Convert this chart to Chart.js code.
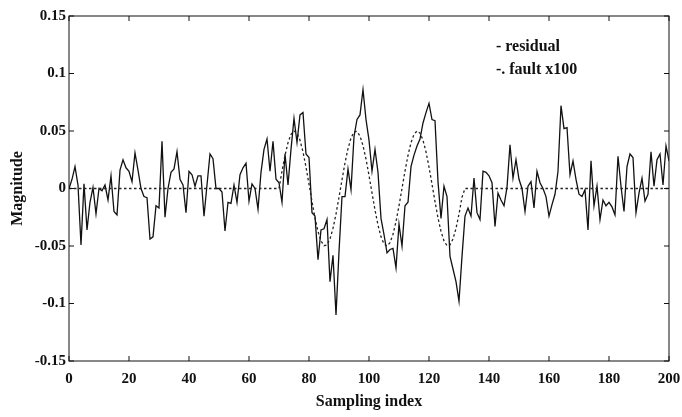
<!DOCTYPE html>
<html>
<head>
<meta charset="utf-8">
<script src="https://cdn.jsdelivr.net/npm/chart.js@4.4.1/dist/chart.umd.min.js"></script>
<style>
  html, body { margin: 0; padding: 0; background: #fff; }
  #wrap { width: 682px; height: 417px; }
</style>
</head>
<body>
<div id="wrap"><canvas id="myChart"></canvas></div>
<script>
// residual, one value per sampling index 0..200
const residual = [
  0.000, 0.008, 0.019, 0.003, -0.049, 0.004, -0.036, -0.012, 0.001, -0.022,
  0.000, -0.002, 0.003, -0.010, 0.011, -0.020, -0.023, 0.016, 0.025, 0.018,
  0.015, 0.006, 0.031, 0.016, 0.000, -0.007, -0.008, -0.044, -0.042, -0.015,
  -0.017, 0.041, -0.025, 0.000, 0.014, 0.017, 0.032, 0.008, 0.003, -0.021,
  0.015, 0.012, 0.002, 0.011, 0.011, -0.024, 0.003, 0.030, 0.026, 0.000,
  0.000, -0.003, -0.037, -0.012, -0.013, 0.003, -0.012, 0.012, 0.018, 0.022,
  -0.011, 0.004, 0.000, -0.018, 0.014, 0.034, 0.043, 0.015, 0.041, 0.008,
  0.005, -0.012, 0.030, 0.003, 0.034, 0.061, 0.040, 0.064, 0.066, 0.030,
  0.027, -0.021, -0.024, -0.062, -0.036, -0.035, -0.027, -0.081, -0.058, -0.110,
  -0.055, -0.007, -0.007, 0.017, -0.001, 0.045, 0.060, 0.064, 0.086, 0.060,
  0.042, 0.015, 0.034, 0.014, -0.026, -0.040, -0.056, -0.053, -0.052, -0.069,
  -0.031, -0.050, -0.015, -0.012, 0.019, 0.029, 0.037, 0.043, 0.057, 0.066,
  0.074, 0.060, 0.059, 0.006, -0.026, 0.002, -0.007, -0.059, -0.070, -0.081,
  -0.098, -0.059, -0.024, -0.017, -0.024, 0.009, -0.021, -0.027, 0.015, 0.014,
  0.011, 0.005, -0.033, -0.004, -0.010, -0.015, 0.001, 0.038, 0.009, 0.025,
  0.008, 0.000, -0.020, 0.002, 0.006, -0.017, 0.015, 0.005, 0.000, -0.007,
  -0.024, -0.014, -0.005, 0.015, 0.072, 0.052, 0.053, 0.012, 0.024, 0.008,
  -0.005, -0.007, -0.001, -0.036, 0.024, -0.015, 0.002, -0.027, -0.010, -0.015,
  -0.012, -0.016, -0.023, 0.028, 0.002, -0.020, 0.019, 0.030, 0.027, -0.021,
  -0.004, 0.009, -0.011, -0.005, 0.032, 0.002, 0.025, 0.030, 0.003, 0.037,
  0.024
];

// fault x100, same sampling indices
const faultX100 = [
  0, 0, 0, 0, 0, 0, 0, 0, 0, 0,
  0, 0, 0, 0, 0, 0, 0, 0, 0, 0,
  0, 0, 0, 0, 0, 0, 0, 0, 0, 0,
  0, 0, 0, 0, 0, 0, 0, 0, 0, 0,
  0, 0, 0, 0, 0, 0, 0, 0, 0, 0,
  0, 0, 0, 0, 0, 0, 0, 0, 0, 0,
  0, 0, 0, 0, 0, 0, 0, 0, 0, 0,
  0, 0.0151, 0.0288, 0.0398, 0.0471, 0.0500, 0.0482, 0.0420, 0.0318, 0.0187,
  0.0038, -0.0114, -0.0256, -0.0373, -0.0456, -0.0497, -0.0491, -0.0439, -0.0347, -0.0222,
  -0.0076, 0.0076, 0.0222, 0.0347, 0.0439, 0.0491, 0.0497, 0.0456, 0.0373, 0.0256,
  0.0114, -0.0038, -0.0187, -0.0318, -0.0420, -0.0482, -0.0500, -0.0471, -0.0398, -0.0288,
  -0.0151, 0, 0.0151, 0.0288, 0.0398, 0.0471, 0.0500, 0.0482, 0.0420, 0.0318,
  0.0187, 0.0038, -0.0114, -0.0256, -0.0373, -0.0456, -0.0497, -0.0491, -0.0439, -0.0347,
  -0.0222, -0.0076, 0, 0, 0, 0, 0, 0, 0, 0,
  0, 0, 0, 0, 0, 0, 0, 0, 0, 0,
  0, 0, 0, 0, 0, 0, 0, 0, 0, 0,
  0, 0, 0, 0, 0, 0, 0, 0, 0, 0,
  0, 0, 0, 0, 0, 0, 0, 0, 0, 0,
  0, 0, 0, 0, 0, 0, 0, 0, 0, 0,
  0, 0, 0, 0, 0, 0, 0, 0, 0, 0,
  0
];

const legendText = ['- residual', '-. fault x100'];

const serif = '"Liberation Serif", "DejaVu Serif", serif';

const toPoints = arr => arr.map((v, i) => ({ x: i, y: v }));

// frame, inward ticks and the text legend
const framePlugin = {
  id: 'frame',
  afterDraw(chart) {
    const { ctx, chartArea: a, scales } = chart;
    ctx.save();
    ctx.strokeStyle = '#111';
    ctx.lineWidth = 1;
    ctx.strokeRect(a.left, a.top, a.right - a.left, a.bottom - a.top);
    ctx.beginPath();
    const t = 5;
    scales.x.ticks.forEach(tk => {
      const px = scales.x.getPixelForValue(tk.value);
      ctx.moveTo(px, a.bottom); ctx.lineTo(px, a.bottom - t);
      ctx.moveTo(px, a.top); ctx.lineTo(px, a.top + t);
    });
    scales.y.ticks.forEach(tk => {
      const py = scales.y.getPixelForValue(tk.value);
      ctx.moveTo(a.left, py); ctx.lineTo(a.left + t, py);
      ctx.moveTo(a.right, py); ctx.lineTo(a.right - t, py);
    });
    ctx.stroke();

    ctx.fillStyle = '#111';
    ctx.font = 'bold 16px ' + serif;
    ctx.textBaseline = 'middle';
    const lx = scales.x.getPixelForValue(142.3);
    ctx.fillText(legendText[0], lx, scales.y.getPixelForValue(0.1235));
    ctx.fillText(legendText[1], lx, scales.y.getPixelForValue(0.1035));
    ctx.restore();
  }
};

const ctx = document.getElementById('myChart');

const myChart = new Chart(ctx, {
  type: 'line',
  data: {
    datasets: [
      {
        label: 'fault x100',
        data: toPoints(faultX100),
        borderColor: '#222',
        borderWidth: 1.3,
        borderDash: [2.5, 2.5],
        pointRadius: 0,
        tension: 0,
        fill: false
      },
      {
        label: 'residual',
        data: toPoints(residual),
        borderColor: '#111',
        borderWidth: 1.3,
        pointRadius: 0,
        tension: 0,
        fill: false
      }
    ]
  },
  options: {
    responsive: true,
    maintainAspectRatio: false,
    animation: false,
    layout: { padding: { top: 16, right: 13, left: 0, bottom: 0 } },
    plugins: {
      legend: { display: false },
      tooltip: { enabled: false }
    },
    scales: {
      x: {
        type: 'linear',
        min: 0,
        max: 200,
        grid: { display: false, drawTicks: false },
        border: { display: false },
        ticks: {
          stepSize: 20,
          padding: 9,
          color: '#111',
          maxRotation: 0,
          font: { family: serif, size: 15, weight: 'bold' }
        },
        title: {
          display: true,
          text: 'Sampling index',
          color: '#111',
          padding: { top: 0, bottom: 6 },
          font: { family: serif, size: 16, weight: 'bold' }
        },
        afterFit(scale) {
          scale.height = 56;
          scale.paddingLeft = 0;
          scale.paddingRight = 0;
        }
      },
      y: {
        min: -0.15,
        max: 0.15,
        grid: { display: false, drawTicks: false },
        border: { display: false },
        ticks: {
          stepSize: 0.05,
          padding: 3,
          color: '#111',
          font: { family: serif, size: 15, weight: 'bold' },
          callback: v => String(+v.toFixed(2))
        },
        title: {
          display: true,
          text: 'Magnitude',
          color: '#111',
          padding: { top: 8, bottom: 0 },
          font: { family: serif, size: 16, weight: 'bold' }
        },
        afterFit(scale) {
          scale.width = 69;
          scale.paddingTop = 0;
          scale.paddingBottom = 0;
        }
      }
    }
  },
  plugins: [framePlugin]
});
</script>
</body>
</html>
